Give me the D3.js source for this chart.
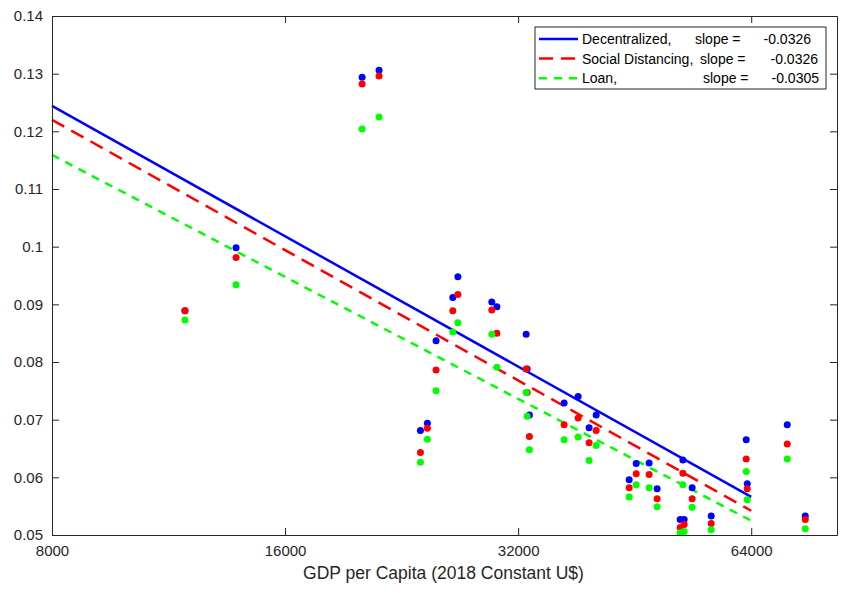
<!DOCTYPE html>
<html>
<head>
<meta charset="utf-8">
<script src="https://cdn.jsdelivr.net/npm/d3@7"></script>
<style>
  body { margin: 0; background: #fff; }
  svg { font-family: "Liberation Sans", Arial, sans-serif; }
</style>
</head>
<body>
<svg id="main-svg"></svg>
<script>
// GDP per capita of each country (x) and the three outcome values (y)
const gdp = [11880, 13830, 20120, 21160, 23930, 24430, 25070, 26350, 26750, 29590,
  30040, 32770, 32870, 33090, 36690, 38250, 39520, 40360, 44520, 45460,
  47240, 48380, 51810, 52230, 52430, 53690, 56820, 63060, 63250, 71240, 75160];
const decentralized = [0.0889, 0.0998, 0.1294, 0.1306, 0.0681, 0.0694, 0.0837, 0.0912, 0.0948, 0.0904,
  0.0896, 0.0848, 0.0788, 0.0708, 0.0729, 0.0740, 0.0686, 0.0708, 0.0596, 0.0624,
  0.0625, 0.0580, 0.0527, 0.0630, 0.0527, 0.0582, 0.0533, 0.0665, 0.0589, 0.0691, 0.0533];
const socialDistancing = [0.0889, 0.0981, 0.1282, 0.1296, 0.0643, 0.0685, 0.0786, 0.0889, 0.0917, 0.0890,
  0.0850, 0.0788, 0.0747, 0.0671, 0.0691, 0.0703, 0.0660, 0.0681, 0.0582, 0.0606,
  0.0605, 0.0563, 0.0513, 0.0607, 0.0518, 0.0563, 0.0520, 0.0632, 0.0580, 0.0658, 0.0527];
const loan = [0.0873, 0.0934, 0.1204, 0.1225, 0.0626, 0.0666, 0.0750, 0.0852, 0.0868, 0.0848,
  0.0791, 0.0747, 0.0706, 0.0648, 0.0665, 0.0670, 0.0629, 0.0655, 0.0566, 0.0587,
  0.0582, 0.0549, 0.0504, 0.0587, 0.0506, 0.0548, 0.0509, 0.0610, 0.0561, 0.0632, 0.0511];

// fitted lines: value at the left end and slope per ln(GDP)
const seriesNames = ["Decentralized", "Social Distancing", "Loan"];
const fitStart = [0.1244, 0.1220, 0.1159];
const fitSlope = [-0.0326, -0.0326, -0.0305];
const fitRange = [8000, 64000];

const xTicks = [8000, 16000, 32000, 64000];
const yTicks = [0.05, 0.06, 0.07, 0.08, 0.09, 0.1, 0.11, 0.12, 0.13, 0.14];

const width = 843, height = 593;
const margin = {top: 16, right: 6, bottom: 58, left: 52};
const colors = ["#0000ff", "#ff0000", "#00ff00"];
const dashes = [null, "14,8", "8,7"];
const axisColor = "#262626";

let svg = d3.select("#main-svg").attr("width", width).attr("height", height);

let x = d3.scaleLog().domain([8000, 82600]).range([margin.left, width - margin.right]);
let y = d3.scaleLinear().domain([0.05, 0.14]).range([height - margin.bottom, margin.top]);

// fit lines
let fits = seriesNames.map((name, i) => fitRange.map(g => ({
  g: g, v: fitStart[i] + fitSlope[i] * Math.log(g / fitRange[0])
})));
let line = d3.line().x(d => x(d.g)).y(d => y(d.v));

svg.append("g").selectAll("path")
  .data(fits)
  .enter()
  .append("path")
  .attr("d", line)
  .attr("fill", "none")
  .attr("stroke", (d, i) => colors[i])
  .attr("stroke-width", 2.5)
  .attr("stroke-dasharray", (d, i) => dashes[i]);

// scatter points, one layer per series
[decentralized, socialDistancing, loan].forEach((vals, i) => {
  svg.append("g").selectAll("circle")
    .data(vals)
    .enter()
    .append("circle")
    .attr("cx", (d, j) => x(gdp[j]))
    .attr("cy", d => y(d))
    .attr("r", 3.5)
    .attr("fill", colors[i]);
});

// axes (ticks point inward, box on all sides)
let xAxis = svg.append("g")
  .attr("transform", `translate(0,${height - margin.bottom})`)
  .call(d3.axisBottom(x).tickValues(xTicks).tickFormat(d3.format("d")).tickSizeInner(-7).tickSizeOuter(0).tickPadding(10));
let yAxis = svg.append("g")
  .attr("transform", `translate(${margin.left},0)`)
  .call(d3.axisLeft(y).tickValues(yTicks).tickFormat(d => d3.format("")(+d.toFixed(2))).tickSizeInner(-7).tickSizeOuter(0).tickPadding(9));
let xTop = svg.append("g")
  .attr("transform", `translate(0,${margin.top})`)
  .call(d3.axisTop(x).tickValues(xTicks).tickFormat("").tickSizeInner(-7).tickSizeOuter(0));
let yRight = svg.append("g")
  .attr("transform", `translate(${width - margin.right},0)`)
  .call(d3.axisRight(y).tickValues(yTicks).tickFormat("").tickSizeInner(-7).tickSizeOuter(0));

[xAxis, yAxis, xTop, yRight].forEach(a => {
  a.selectAll("path, line").attr("stroke", axisColor);
  a.selectAll("text").attr("fill", axisColor).style("font-size", "15px")
    .style("font-family", "'Liberation Sans', Arial, sans-serif");
});

svg.append("text")
  .attr("x", (margin.left + width - margin.right) / 2 - 1)
  .attr("y", 579)
  .attr("text-anchor", "middle")
  .attr("fill", axisColor)
  .style("font-size", "17.5px")
  .text("GDP per Capita (2018 Constant U$)");

// legend
let legend = svg.append("g").attr("transform", "translate(535,27)");
legend.append("rect")
  .attr("width", 291).attr("height", 62)
  .attr("fill", "#fff").attr("stroke", axisColor).attr("stroke-width", 1);
const slopeX = [160, 165, 168];
const valueX = [276, 283, 284];
seriesNames.forEach((name, i) => {
  let row = legend.append("g").attr("transform", `translate(0,${12 + i * 19.6})`);
  row.append("line")
    .attr("x1", 4).attr("x2", 43)
    .attr("stroke", colors[i]).attr("stroke-width", 2.5)
    .attr("stroke-dasharray", dashes[i]);
  row.append("text").attr("x", 47).attr("dy", "0.35em")
    .style("font-size", "14px").attr("fill", "#000").text(name + ",");
  row.append("text").attr("x", slopeX[i]).attr("dy", "0.35em")
    .style("font-size", "14px").attr("fill", "#000").text("slope =");
  row.append("text").attr("x", valueX[i]).attr("dy", "0.35em").attr("text-anchor", "end")
    .style("font-size", "14px").attr("fill", "#000").text(fitSlope[i].toFixed(4));
});
</script>
</body>
</html>
